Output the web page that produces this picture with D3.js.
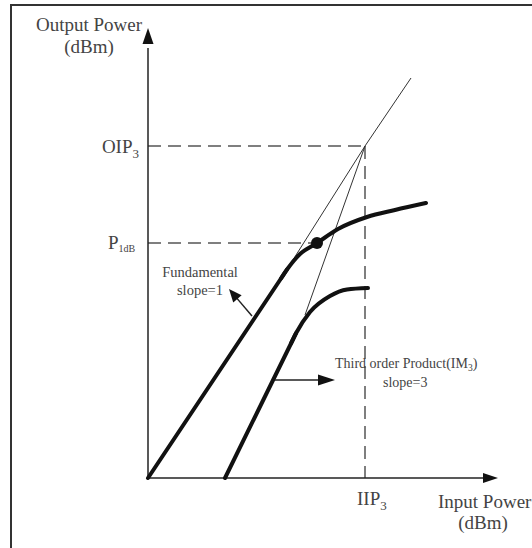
<!DOCTYPE html>
<html>
<head>
<meta charset="utf-8">
<script src="https://cdn.jsdelivr.net/npm/d3@7"></script>
<style>
  html, body { margin: 0; padding: 0; background: #fff; }
  svg { display: block; }
  text { font-family: "Liberation Serif", "DejaVu Serif", serif; fill: #444; }
</style>
</head>
<body>
<script>
// ---- data (abstract dBm units of the schematic) ----
// first three points of each thick curve are the linear (small-signal) region
const fundamental = [[0,0],[13.3,19.95],[13.9,20.85],[15.2,22.4],[16.9,23.5],[19,24.9],[21.9,26.1],[24.7,26.8],[27.8,27.5]];
const im3 = [[7.7,0],[14.3,13.45],[14.8,14.47],[16.2,16.6],[18.2,18.2],[19.9,18.85],[22.0,19.0]];
const fundamentalExtrap = [[14.3,21.5],[21.7,33.2],[26.3,40.0]];
const im3Extrap = [[15.7,16.3],[21.7,33.2]];
const oip3 = 33.2, iip3 = 21.7;
const p1dbPoint = [16.9, 23.5];
const tickLabels = ["OIP", "3", "P", "1dB", "IIP", "3"];
const fundArrow = [[10.4,16.2],[8.1,18.9]];
const im3Arrow = [[12.7,9.8],[18.7,9.8]];

const W = 532, H = 548;
const x = d3.scaleLinear().domain([0, 35]).range([148, 498]);
const y = d3.scaleLinear().domain([0, 45]).range([478, 28]);

const svg = d3.select("body").append("svg").attr("width", W).attr("height", H);

// frame
svg.append("rect").attr("x", 11).attr("y", 5).attr("width", 700).attr("height", 700)
  .attr("fill", "none").attr("stroke", "#333").attr("stroke-width", 2);

function head(tip, tail, len, hw) {
  const dx = tip[0]-tail[0], dy = tip[1]-tail[1];
  const d = Math.hypot(dx, dy), ux = dx/d, uy = dy/d;
  const bx = tip[0]-ux*len, by = tip[1]-uy*len;
  return `M${tip[0]},${tip[1]}L${bx-uy*hw},${by+ux*hw}L${bx+uy*hw},${by-ux*hw}Z`;
}

// dashed guides
const dash = "13,7";
svg.append("line").attr("x1", x(0)).attr("x2", x(iip3)).attr("y1", y(oip3)).attr("y2", y(oip3))
  .attr("stroke", "#555").attr("stroke-width", 1.5).attr("stroke-dasharray", dash);
svg.append("line").attr("x1", x(iip3)).attr("x2", x(iip3)).attr("y1", y(oip3)).attr("y2", y(0))
  .attr("stroke", "#555").attr("stroke-width", 1.5).attr("stroke-dasharray", dash);
svg.append("line").attr("x1", x(0)).attr("x2", x(p1dbPoint[0])).attr("y1", y(p1dbPoint[1])).attr("y2", y(p1dbPoint[1]))
  .attr("stroke", "#555").attr("stroke-width", 1.5).attr("stroke-dasharray", dash);

// axes
svg.append("line").attr("x1", x(0)).attr("y1", y(0)).attr("x2", x(0)).attr("y2", y(43))
  .attr("stroke", "#222").attr("stroke-width", 1.5);
svg.append("path").attr("d", head([x(0), y(45)], [x(0), y(0)], 16, 5.5)).attr("fill", "#111");
svg.append("line").attr("x1", x(0)).attr("y1", y(0)).attr("x2", x(33.5)).attr("y2", y(0))
  .attr("stroke", "#222").attr("stroke-width", 1.5);
svg.append("path").attr("d", head([x(35), y(0)], [x(0), y(0)], 15, 5)).attr("fill", "#111");

const line = d3.line().x(d => x(d[0])).y(d => y(d[1]));
const curve = d3.line().x(d => x(d[0])).y(d => y(d[1])).curve(d3.curveMonotoneX);

// thin extrapolations
svg.append("path").attr("d", line(fundamentalExtrap)).attr("fill", "none").attr("stroke", "#333").attr("stroke-width", 1);
svg.append("path").attr("d", line(im3Extrap)).attr("fill", "none").attr("stroke", "#333").attr("stroke-width", 1);

// thick curves: straight linear region + smooth compression knee
function thick(data) {
  const g = svg.append("g").attr("fill", "none").attr("stroke", "#111")
    .attr("stroke-width", 4).attr("stroke-linecap", "round").attr("stroke-linejoin", "round");
  g.append("path").attr("d", line(data.slice(0, 3)));
  g.append("path").attr("d", curve(data.slice(1)));
}
thick(fundamental);
thick(im3);

// P1dB dot
svg.append("circle").attr("cx", x(p1dbPoint[0])).attr("cy", y(p1dbPoint[1])).attr("r", 6).attr("fill", "#111");

// annotation arrows
function annArrow(a, len, hw) {
  const t = [x(a[1][0]), y(a[1][1])], s = [x(a[0][0]), y(a[0][1])];
  const dx = t[0]-s[0], dy = t[1]-s[1], d = Math.hypot(dx, dy);
  svg.append("line").attr("x1", s[0]).attr("y1", s[1])
    .attr("x2", t[0]-dx/d*(len-2)).attr("y2", t[1]-dy/d*(len-2))
    .attr("stroke", "#222").attr("stroke-width", 1.5);
  svg.append("path").attr("d", head(t, s, len, hw)).attr("fill", "#111");
}
annArrow(fundArrow, 13, 5.5);
annArrow(im3Arrow, 17, 5.5);

// texts
const big = 19;
function txt(px, py, anchor, parts) {
  const t = svg.append("text").attr("x", px).attr("y", py).attr("text-anchor", anchor);
  parts.forEach(p => {
    const s = t.append("tspan").text(p.t).attr("font-size", p.s);
    if (p.dy) s.attr("dy", p.dy);
  });
  return t;
}
txt(89, 31, "middle", [{t: "Output Power", s: big}]);
txt(89, 53, "middle", [{t: "(dBm)", s: big}]);
txt(438, 508, "start", [{t: "Input Power", s: big}]);
txt(483, 529, "middle", [{t: "(dBm)", s: big}]);

txt(x(0) - 9, y(oip3) + 7, "end", [{t: tickLabels[0], s: big}, {t: tickLabels[1], s: 13, dy: 5}]);
txt(108, y(p1dbPoint[1]) + 6, "start", [{t: tickLabels[2], s: big}, {t: tickLabels[3], s: 10, dy: 3}]);
txt(x(iip3) - 8, 505, "start", [{t: tickLabels[4], s: big}, {t: tickLabels[5], s: 13, dy: 5}]);

txt(200, 277, "middle", [{t: "Fundamental", s: 14.5}]);
txt(200, 295, "middle", [{t: "slope=1", s: 14.5}]);
txt(335, 368, "start", [{t: "Third order Product(IM", s: 14}, {t: "3", s: 9.5, dy: 3}, {t: ")", s: 14, dy: -3}]);
txt(383, 387, "start", [{t: "slope=3", s: 14}]);
</script>
</body>
</html>
